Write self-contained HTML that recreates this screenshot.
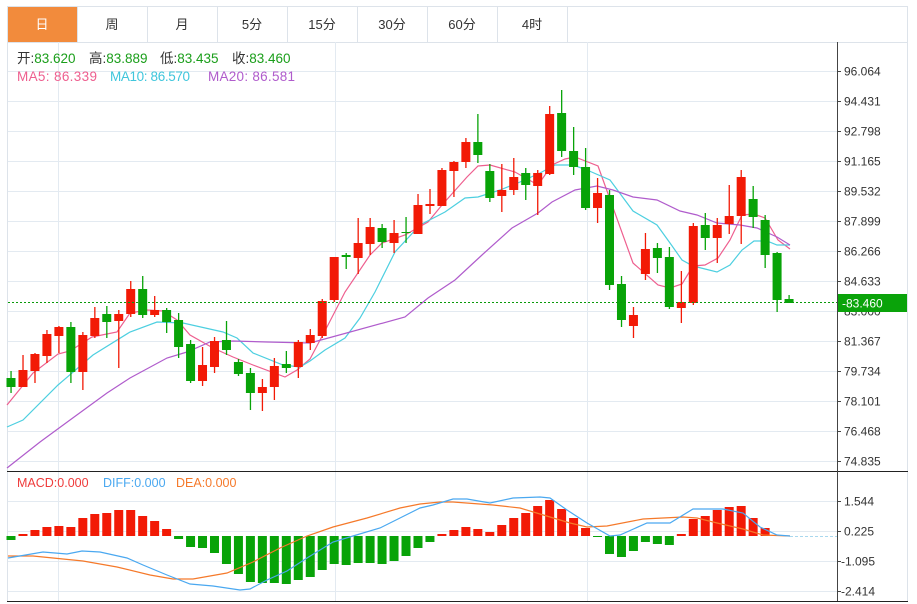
<!DOCTYPE html>
<html><head><meta charset="utf-8"><style>
html,body{margin:0;padding:0;background:#fff;width:917px;height:604px;overflow:hidden}
svg{display:block;font-family:"Liberation Sans","Noto Sans CJK SC",sans-serif}
</style></head><body>
<svg id="s" width="917" height="604" xmlns="http://www.w3.org/2000/svg">
<rect width="917" height="604" fill="#fff"/>
<rect x="7.5" y="6.5" width="900" height="36" fill="#fff" stroke="#dde3ea"/>
<rect x="8" y="7" width="69" height="35" fill="#f28b3c"/>
<g stroke="#dde3ea"><line x1="77.5" y1="7" x2="77.5" y2="42"/><line x1="147.5" y1="7" x2="147.5" y2="42"/><line x1="217.5" y1="7" x2="217.5" y2="42"/><line x1="287.5" y1="7" x2="287.5" y2="42"/><line x1="357.5" y1="7" x2="357.5" y2="42"/><line x1="427.5" y1="7" x2="427.5" y2="42"/><line x1="497.5" y1="7" x2="497.5" y2="42"/><line x1="567.5" y1="7" x2="567.5" y2="42"/></g>
<g font-size="13" text-anchor="middle" fill="#333"><text x="42" y="29" fill="#fff">日</text><text x="112" y="29">周</text><text x="182" y="29">月</text><text x="252" y="29">5分</text><text x="322" y="29">15分</text><text x="392" y="29">30分</text><text x="462" y="29">60分</text><text x="532" y="29">4时</text></g>
<line x1="7.5" y1="42" x2="7.5" y2="601" stroke="#dde3ea"/>
<line x1="907.5" y1="42" x2="907.5" y2="601" stroke="#dde3ea"/>
<g id="grid" stroke="#e3eaf1"></g>
<line x1="7" y1="471.5" x2="908" y2="471.5" stroke="#222"/>
<line x1="7" y1="601.5" x2="908" y2="601.5" stroke="#222"/>
<line x1="837.5" y1="42" x2="837.5" y2="601" stroke="#444"/>
<g id="ax" font-size="12" fill="#333"></g>
<g id="ma"></g>
<g id="c"></g>
<g id="m"></g>
<line x1="8" y1="302.5" x2="837" y2="302.5" stroke="#0a9a0a" stroke-dasharray="2,2"/>
<rect x="838" y="294" width="69" height="18" fill="#0aa30a"/>
<text x="842" y="307.5" font-size="12" fill="#fff">-83.460</text>
<g font-size="13.5">
<text x="17" y="63" fill="#333">开:<tspan fill="#1a9e1a">83.620</tspan></text>
<text x="89" y="63" fill="#333">高:<tspan fill="#1a9e1a">83.889</tspan></text>
<text x="160" y="63" fill="#333">低:<tspan fill="#1a9e1a">83.435</tspan></text>
<text x="232" y="63" fill="#333">收:<tspan fill="#1a9e1a">83.460</tspan></text>
<text x="17" y="81" fill="#ee5f8f" textLength="80">MA5: 86.339</text><text x="110" y="81" fill="#3fc6dc" textLength="80">MA10: 86.570</text><text x="208" y="81" fill="#b05ccc" textLength="87">MA20: 86.581</text></g>
<g font-size="12.5"><text x="17" y="487" fill="#ef3b3b">MACD:0.000</text><text x="103" y="487" fill="#4aa8f0">DIFF:0.000</text><text x="176" y="487" fill="#f5792a">DEA:0.000</text></g>
</svg>
<script>
var NS="http://www.w3.org/2000/svg";
function el(p,t,a){var e=document.createElementNS(NS,t);for(var k in a)e.setAttribute(k,a[k]);document.getElementById(p).appendChild(e);return e;}
for(var i=0;i<14;i++){var y=71+i*30;el("grid","line",{x1:8,x2:837,y1:y+.5,y2:y+.5});}
[501,531,561,591].forEach(function(y){el("grid","line",{x1:8,x2:837,y1:y+.5,y2:y+.5});});
[58,335,587].forEach(function(x){el("grid","line",{x1:x+.5,x2:x+.5,y1:42,y2:601});});
var labs=["96.064","94.431","92.798","91.165","89.532","87.899","86.266","84.633","83.000","81.367","79.734","78.101","76.468","74.835"];
labs.forEach(function(l,i){var y=71+i*30;el("ax","line",{x1:837,x2:841,y1:y+.5,y2:y+.5,stroke:"#444"});var t=el("ax","text",{x:844,y:y+4.5});t.textContent=l;});
[["1.544",501],["0.225",531],["-1.095",561],["-2.414",591]].forEach(function(a){el("ax","line",{x1:837,x2:841,y1:a[1]+.5,y2:a[1]+.5,stroke:"#444"});var t=el("ax","text",{x:a[0][0]=="-"?841:844,y:a[1]+4.5});t.textContent=a[0];});
var R="#f21a06",G="#08a308";
var C=[["g",378,387,371,393],["r",370,387,355,387],["r",354,371,353,383],["r",334,356,330,363],["r",327,336,326,353],["g",327,372,322,383],["r",335,372,332,390],["r",318,336,307,338],["g",314,322,306,338],["r",314,321,310,368],["r",289,314,281,317],["g",289,315,276,318],["r",310,315,296,317],["g",310,322,308,333],["g",320,347,313,358],["g",344,381,340,383],["r",365,381,347,386],["r",341,367,337,373],["g",340,350,321,355],["g",362,374,359,376],["g",373,393,368,410],["r",387,393,379,411],["r",366,387,358,400],["g",364,368,351,373],["r",342,367,340,378],["r",335,343,329,350],["r",301,336,299,338],["r",257,300,257,302],["g",255,257,253,269],["r",243,258,218,274],["r",227,244,218,255],["g",228,242,224,248],["r",233,243,220,253],["g",232,233,217,243],["r",205,234,194,234],["r",204,206,189,214],["r",170,206,168,206],["r",162,171,161,197],["r",142,162,138,168],["g",142,155,114,163],["g",171,198,164,202],["r",190,196,164,212],["r",177,190,158,195],["g",173,185,168,200],["r",173,186,170,215],["r",114,174,106,175],["g",113,151,90,157],["g",151,167,127,175],["g",167,208,148,210],["r",193,208,178,223],["g",195,285,190,290],["g",284,320,276,327],["r",315,326,307,338],["r",249,274,233,280],["g",248,258,243,273],["g",257,307,247,309],["r",302,308,271,323],["r",226,303,223,305],["g",225,238,213,250],["r",225,238,218,263],["r",216,224,185,234],["r",177,216,170,244],["g",199,217,186,228],["g",220,255,215,268],["g",253,300,252,312],["g",299,303,295,303]];
C.forEach(function(c,i){var x=11+i*11.97,col=c[0]=="r"?R:G;el("c","rect",{x:x-0.6,y:c[3],width:1.3,height:c[4]-c[3],fill:col});el("c","rect",{x:x-4.5,y:c[1],width:9,height:Math.max(1,c[2]-c[1]),fill:col});});
var M=[540,534,530,527,526,527,518,514,513,510,510,516,521,529,539,547,548,553,564,574,582,583,583,584,580,577,570,564,565,563,563,564,561,556,548,542,534,530,527,529,532,525,518,513,506,500,509,518,528,537,554,557,551,542,544,545,534,519,516,510,507,506,518,528,536,536];
M.forEach(function(v,i){var x=11+i*11.97;if(v==536)return;var top=Math.min(v,536),h=Math.abs(v-536);el("m","rect",{x:x-4.5,y:top,width:9,height:Math.max(1,h),fill:v<536?R:G});});
el("m","line",{x1:790,x2:837,y1:536.5,y2:536.5,stroke:"#a9d8ee","stroke-dasharray":"3,2"});
function pl(g,pts,col){el(g,"polyline",{points:pts,fill:"none",stroke:col,"stroke-width":1.2});}
pl("ma","7,405 33,373 58,354 70,351 92,337 117,332 130,313 147,310 163,311 177,320 190,335 213,348 233,357 253,365 285,377 297,370 310,359 328,325 345,292 370,255 382,243 405,235 428,222 442,205 467,177 478,166 490,165 515,172 538,185 552,165 565,159 575,157 598,166 633,263 658,285 670,288 682,284 693,266 705,265 718,258 730,240 742,215 754,214 765,218 778,240 790,249","#ee5f8f");
pl("ma","7,427 23,420 58,385 93,355 130,332 157,322 183,323 223,332 237,338 253,353 283,365 300,367 310,361 325,350 345,338 360,318 375,292 395,252 420,225 445,212 465,198 478,197 500,190 520,182 540,173 555,165 573,165 587,170 610,180 633,211 657,225 670,243 682,260 693,266 717,272 730,265 742,250 754,241 767,241 777,245 790,245","#4dcfe0");
pl("ma","7,468 40,442 70,420 107,393 130,378 167,358 187,352 210,342 233,341 267,342 310,343 332,337 405,317 428,298 455,280 482,255 512,228 538,213 552,202 575,190 597,186 613,190 633,197 657,200 680,211 697,215 717,223 740,225 757,228 777,237 790,245","#b05ccc");
pl("m","8,556 33,556 83,561 117,567 150,575 173,579 193,579 227,573 253,562 280,548 307,536 333,527 367,518 400,508 420,504 440,502 453,502 493,505 520,508 550,517 570,523 587,527 607,526 643,519 683,517 697,518 717,523 743,529 763,535 790,536","#f5792a");
pl("m","8,558 43,552 67,554 82,551 100,552 127,558 143,565 167,575 190,584 213,586 240,590 250,589 267,580 287,571 307,558 333,542 353,536 380,528 400,518 420,508 433,505 453,499 467,499 490,503 513,498 540,497 550,498 567,510 587,523 610,536 620,535 647,523 670,523 693,509 723,509 743,513 760,527 777,535 790,536","#4aa8f0");
</script>
</body></html>
